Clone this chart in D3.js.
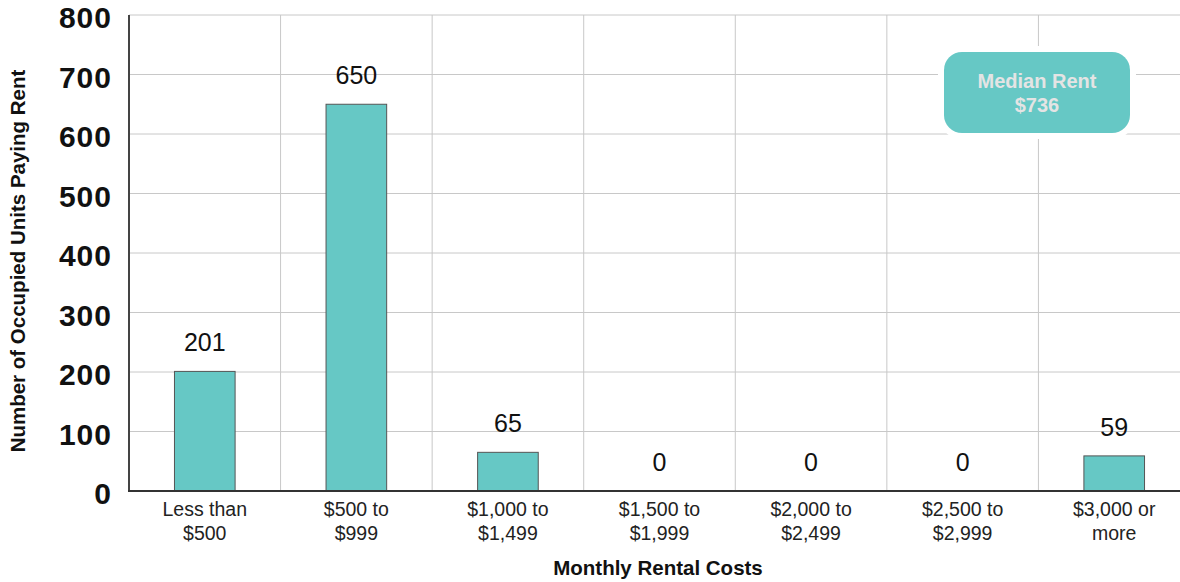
<!DOCTYPE html>
<html>
<head>
<meta charset="utf-8">
<script src="https://cdn.jsdelivr.net/npm/d3@7"></script>
<style>
  body { margin: 0; background: #fff; }
  svg { font-family: "Liberation Sans", Arial, sans-serif; }
</style>
</head>
<body>
<svg id="svg"></svg>
<script>
// chart data
const categories = [
  ["Less than", "$500"],
  ["$500 to", "$999"],
  ["$1,000 to", "$1,499"],
  ["$1,500 to", "$1,999"],
  ["$2,000 to", "$2,499"],
  ["$2,500 to", "$2,999"],
  ["$3,000 or", "more"]
];
const units = [201, 650, 65, 0, 0, 0, 59];
const yTicks = [0, 100, 200, 300, 400, 500, 600, 700, 800];
const medianLabel = ["Median Rent", "$736"];

const width = 1180;
const height = 582;
const margin = { top: 15, right: -10, bottom: 91, left: 129 };

const svg = d3.select("#svg")
  .attr("width", width)
  .attr("height", height);

const x = d3.scaleBand()
  .domain(d3.range(categories.length))
  .range([margin.left, width - margin.right])
  .paddingInner(0)
  .paddingOuter(0);

const y = d3.scaleLinear()
  .domain([0, 800])
  .range([height - margin.bottom, margin.top]);

// grid lines
svg.append("g")
  .selectAll("line")
  .data(yTicks.filter(d => d > 0))
  .enter()
  .append("line")
  .attr("x1", margin.left)
  .attr("x2", width)
  .attr("y1", d => y(d))
  .attr("y2", d => y(d))
  .attr("stroke", "#c8c8c8")
  .attr("stroke-width", 1);

svg.append("g")
  .selectAll("line")
  .data(d3.range(1, categories.length))
  .enter()
  .append("line")
  .attr("x1", d => x(d))
  .attr("x2", d => x(d))
  .attr("y1", y(800))
  .attr("y2", y(0))
  .attr("stroke", "#c8c8c8")
  .attr("stroke-width", 1);

// bars
svg.append("g")
  .selectAll("rect")
  .data(units)
  .enter()
  .append("rect")
  .attr("x", (d, i) => x(i) + x.bandwidth() * 0.3)
  .attr("width", x.bandwidth() * 0.4)
  .attr("y", d => y(d))
  .attr("height", d => y(0) - y(d))
  .attr("fill", "#66c8c5")
  .attr("stroke", "#555")
  .attr("stroke-width", 1);

// value labels
svg.append("g")
  .selectAll("text")
  .data(units)
  .enter()
  .append("text")
  .attr("x", (d, i) => x(i) + x.bandwidth() / 2)
  .attr("y", d => y(d) - 20)
  .attr("text-anchor", "middle")
  .attr("font-size", 25)
  .attr("fill", "#111")
  .text(d => d);

// axes lines
svg.append("line")
  .attr("x1", margin.left).attr("x2", margin.left)
  .attr("y1", y(800)).attr("y2", y(0))
  .attr("stroke", "#444").attr("stroke-width", 2);
svg.append("line")
  .attr("x1", margin.left - 1).attr("x2", width)
  .attr("y1", y(0)).attr("y2", y(0))
  .attr("stroke", "#333").attr("stroke-width", 2);

// y tick labels
svg.append("g")
  .selectAll("text")
  .data(yTicks)
  .enter()
  .append("text")
  .attr("x", 112)
  .attr("y", d => y(d) + 13)
  .attr("text-anchor", "end")
  .attr("font-size", 30)
  .attr("font-weight", "bold")
  .attr("letter-spacing", 1)
  .attr("fill", "#111")
  .text(d => d);

// x tick labels
const xl = svg.append("g")
  .selectAll("text")
  .data(categories)
  .enter()
  .append("text")
  .attr("text-anchor", "middle")
  .attr("font-size", 19.5)
  .attr("fill", "#222");
xl.append("tspan")
  .attr("x", (d, i) => x(i) + x.bandwidth() / 2)
  .attr("y", 516)
  .text(d => d[0]);
xl.append("tspan")
  .attr("x", (d, i) => x(i) + x.bandwidth() / 2)
  .attr("y", 540)
  .text(d => d[1]);

// axis titles
svg.append("text")
  .attr("x", 658)
  .attr("y", 575)
  .attr("text-anchor", "middle")
  .attr("font-size", 20.5)
  .attr("font-weight", "bold")
  .attr("fill", "#111")
  .text("Monthly Rental Costs");

svg.append("text")
  .attr("transform", "translate(25, 261) rotate(-90)")
  .attr("text-anchor", "middle")
  .attr("font-size", 20.5)
  .attr("font-weight", "bold")
  .attr("fill", "#111")
  .text("Number of Occupied Units Paying Rent");

// median rent box
const box = svg.append("g").attr("transform", "translate(944, 52)");
box.append("rect")
  .attr("width", 186)
  .attr("height", 81)
  .attr("rx", 18)
  .attr("fill", "#66c8c5")
  .attr("stroke", "#fff")
  .attr("stroke-width", 12)
  .attr("paint-order", "stroke");
box.selectAll("text")
  .data(medianLabel)
  .enter()
  .append("text")
  .attr("x", 93)
  .attr("y", (d, i) => 36 + i * 24)
  .attr("text-anchor", "middle")
  .attr("font-size", 20)
  .attr("font-weight", "bold")
  .attr("fill", "#e4e4e4")
  .text(d => d);
</script>
</body>
</html>
